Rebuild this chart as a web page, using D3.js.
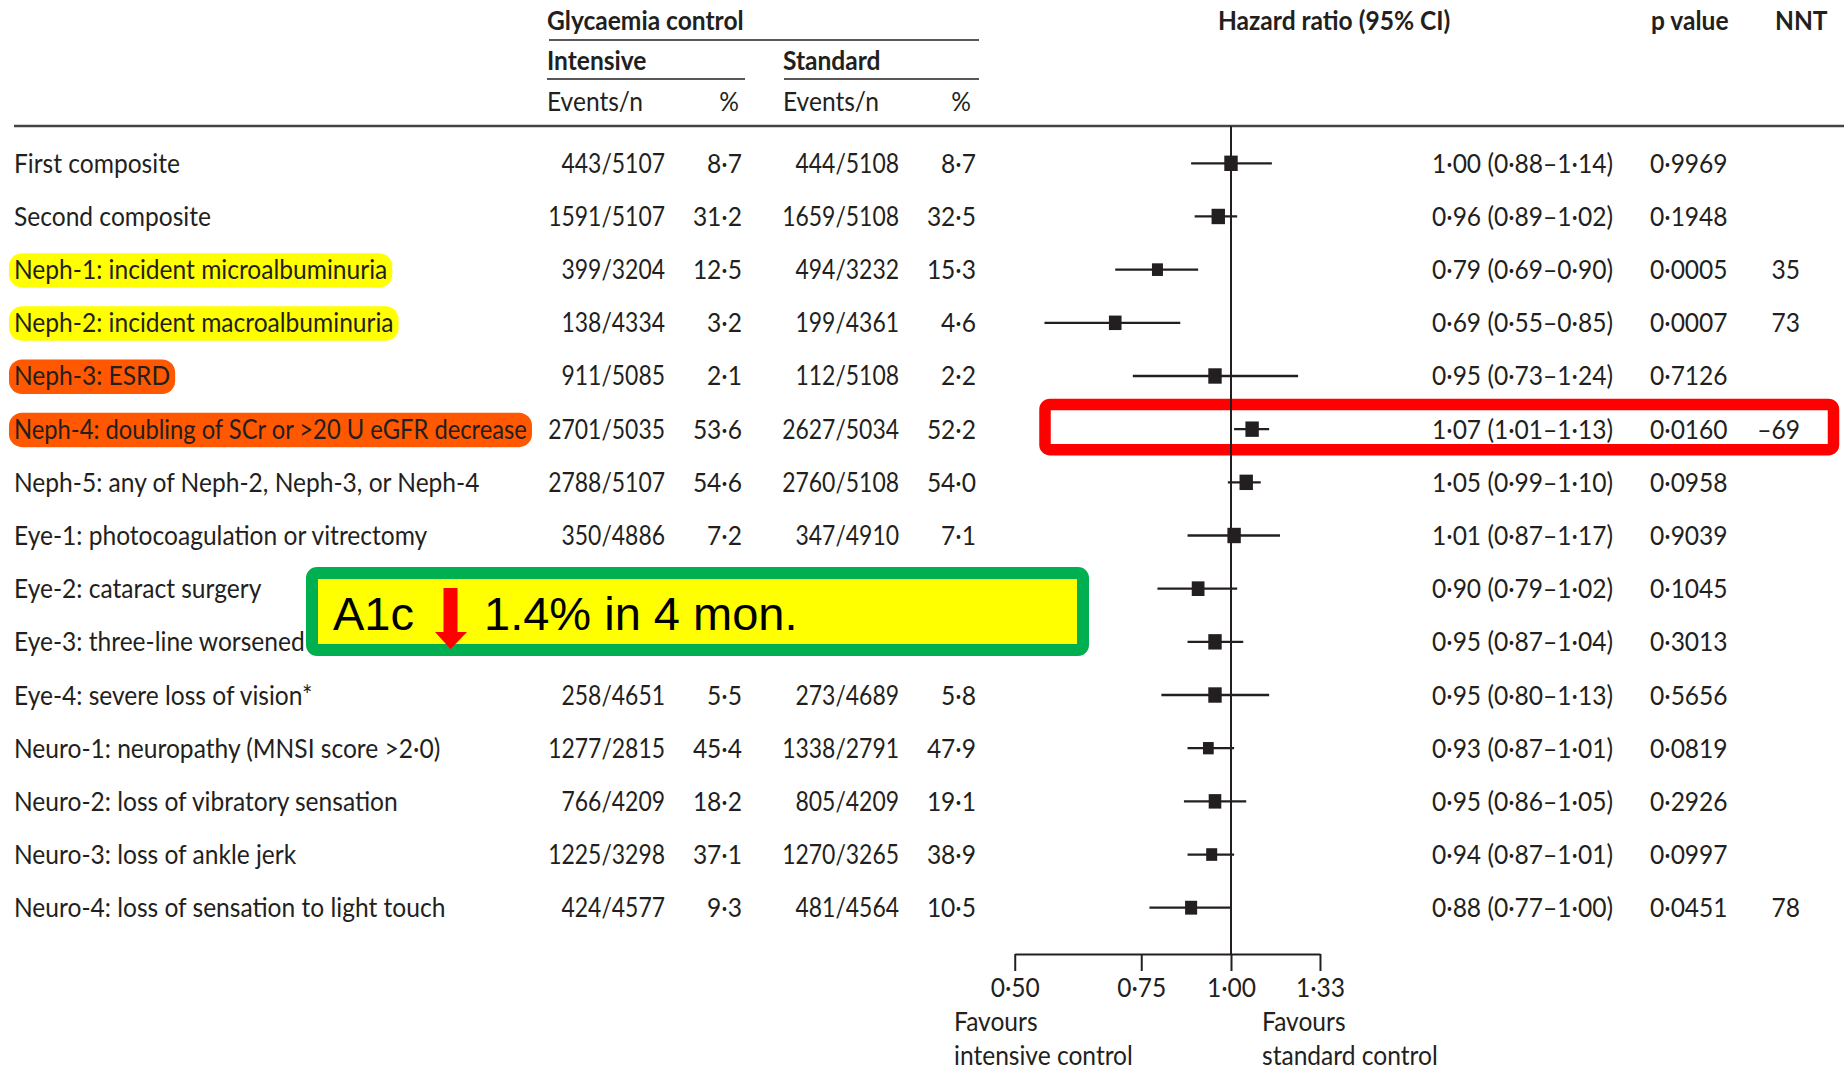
<!DOCTYPE html>
<html><head><meta charset="utf-8">
<script src="https://cdn.jsdelivr.net/npm/d3@7"></script>
<style>html,body{margin:0;padding:0;background:#fff;}svg{display:block;}</style>
</head><body>
<script>
// ---------- data ----------
const labels = [
  "First composite",
  "Second composite",
  "Neph-1: incident microalbuminuria",
  "Neph-2: incident macroalbuminuria",
  "Neph-3: ESRD",
  "Neph-4: doubling of SCr or >20 U eGFR decrease",
  "Neph-5: any of Neph-2, Neph-3, or Neph-4",
  "Eye-1: photocoagulation or vitrectomy",
  "Eye-2: cataract surgery",
  "Eye-3: three-line worsened visual acuity",
  "Eye-4: severe loss of vision*",
  "Neuro-1: neuropathy (MNSI score >2·0)",
  "Neuro-2: loss of vibratory sensation",
  "Neuro-3: loss of ankle jerk",
  "Neuro-4: loss of sensation to light touch"
];
const highlight = ["", "", "yellow", "yellow", "orange", "orange", "", "", "", "", "", "", "", "", ""];
const intEvents = ["443/5107","1591/5107","399/3204","138/4334","911/5085","2701/5035","2788/5107","350/4886","","","258/4651","1277/2815","766/4209","1225/3298","424/4577"];
const intPct    = ["8·7","31·2","12·5","3·2","2·1","53·6","54·6","7·2","","","5·5","45·4","18·2","37·1","9·3"];
const stdEvents = ["444/5108","1659/5108","494/3232","199/4361","112/5108","2627/5034","2760/5108","347/4910","","","273/4689","1338/2791","805/4209","1270/3265","481/4564"];
const stdPct    = ["8·7","32·5","15·3","4·6","2·2","52·2","54·0","7·1","","","5·8","47·9","19·1","38·9","10·5"];
const hr  = [1.00,0.96,0.79,0.69,0.95,1.07,1.05,1.01,0.90,0.95,0.95,0.93,0.95,0.94,0.88];
const lo  = [0.88,0.89,0.69,0.55,0.73,1.01,0.99,0.87,0.79,0.87,0.80,0.87,0.86,0.87,0.77];
const hi  = [1.14,1.02,0.90,0.85,1.24,1.13,1.10,1.17,1.02,1.04,1.13,1.01,1.05,1.01,1.00];
const markerWeight = [1.0,1.0,0.82,0.94,1.0,1.0,1.0,1.0,0.95,1.0,1.0,0.8,0.94,0.82,0.9];
const pval = ["0·9969","0·1948","0·0005","0·0007","0·7126","0·0160","0·0958","0·9039","0·1045","0·3013","0·5656","0·0819","0·2926","0·0997","0·0451"];
const nnt  = ["","","35","73","","–69","","","","","","","","","78"];
const tickValues = [0.5, 0.75, 1.0, 1.33];
const tickLabels = ["0·50", "0·75", "1·00", "1·33"];
const calloutParts = ["A1c", "1.4% in 4 mon."];

// ---------- layout ----------
const W = 1844, H = 1072;
const FS = 27, SX = 0.91, SX_EV = 0.85;
const MAX_LABEL_W = 513;
const FONT = "Lato, 'Open Sans', 'DejaVu Sans', sans-serif";
const ink = "#231f20";
const n = labels.length;

const svg = d3.select("body").append("svg").attr("width", W).attr("height", H);
svg.append("rect").attr("width", W).attr("height", H).attr("fill", "#fff");
const defs = svg.append("defs");
defs.append("clipPath").attr("id", "labelClip").append("rect")
  .attr("x", 0).attr("y", 0).attr("width", 306).attr("height", H);

const y = d3.scalePoint().domain(d3.range(n)).range([163.3, 907.7]);
const x0 = 1231, k = 312;
const x = d3.scaleLog().domain([0.5, 1.33]).range([x0 + Math.log(0.5) * k, x0 + Math.log(1.33) * k]);

const fmt = v => d3.format(".2f")(v).replace(".", "·");

function txt(g, tx, ty, s, anchor = "start", weight = 400, sx = SX) {
  return g.append("text")
    .attr("transform", `translate(${tx},${ty}) scale(${sx},1)`)
    .attr("text-anchor", anchor)
    .attr("font-family", FONT)
    .attr("font-size", FS)
    .attr("font-weight", weight)
    .attr("fill", ink)
    .text(s);
}

const col = { label: 14, intEv: 665, intPct: 742, stdEv: 899, stdPct: 976, hr: 1432, p: 1650, nnt: 1800 };

// ---------- header ----------
const hdr = svg.append("g");
txt(hdr, 547, 30, "Glycaemia control", "start", 700);
hdr.append("line").attr("x1", 549).attr("x2", 979).attr("y1", 40).attr("y2", 40).attr("stroke", ink).attr("stroke-width", 1.6);
txt(hdr, 547, 70, "Intensive", "start", 700);
hdr.append("line").attr("x1", 547).attr("x2", 745).attr("y1", 79).attr("y2", 79).attr("stroke", ink).attr("stroke-width", 1.6);
txt(hdr, 783, 70, "Standard", "start", 700);
hdr.append("line").attr("x1", 784).attr("x2", 979).attr("y1", 79).attr("y2", 79).attr("stroke", ink).attr("stroke-width", 1.6);
txt(hdr, 547, 111, "Events/n");
txt(hdr, 739, 111, "%", "end");
txt(hdr, 783, 111, "Events/n");
txt(hdr, 971, 111, "%", "end");
txt(hdr, 1218, 30, "Hazard ratio (95% CI)", "start", 700);
txt(hdr, 1651, 30, "p value", "start", 700);
txt(hdr, 1775, 30, "NNT", "start", 700);
hdr.append("line").attr("x1", 14).attr("x2", W).attr("y1", 126).attr("y2", 126).attr("stroke", "#444").attr("stroke-width", 2.6);

// ---------- red highlight frame (under the plot lines) ----------
const redRow = 5;
svg.append("rect")
  .attr("x", 1045).attr("y", y(redRow) - 24.7)
  .attr("width", 788.5).attr("height", 45.3)
  .attr("rx", 5)
  .attr("fill", "none").attr("stroke", "#ff0000").attr("stroke-width", 11.5);

// ---------- rows: labels with highlight pills ----------
const rows = svg.append("g");
const pillColor = { yellow: "#ffff00", orange: "#ff5800" };
labels.forEach((lab, i) => {
  const yy = y(i);
  const pill = rows.append("rect");
  const holder = rows.append("g");
  if (i === 9) holder.attr("clip-path", "url(#labelClip)");
  const t = txt(holder, col.label, yy + 9.5, lab);
  let w = t.node().getComputedTextLength() * SX;
  if (w > MAX_LABEL_W) {
    const s = SX * MAX_LABEL_W / w;
    t.attr("transform", `translate(${col.label},${yy + 9.5}) scale(${s},1)`);
    w = MAX_LABEL_W;
  }
  if (highlight[i]) {
    pill.attr("x", col.label - 5).attr("y", yy - 16.5)
      .attr("width", w + 10).attr("height", 34.5)
      .attr("rx", 13).attr("fill", pillColor[highlight[i]]);
  } else pill.remove();
  if (intEvents[i]) txt(rows, col.intEv, yy + 9.5, intEvents[i], "end", 400, SX_EV);
  if (intPct[i]) txt(rows, col.intPct, yy + 9.5, intPct[i], "end");
  if (stdEvents[i]) txt(rows, col.stdEv, yy + 9.5, stdEvents[i], "end", 400, SX_EV);
  if (stdPct[i]) txt(rows, col.stdPct, yy + 9.5, stdPct[i], "end");
  txt(rows, col.hr, yy + 9.5, `${fmt(hr[i])} (${fmt(lo[i])}–${fmt(hi[i])})`);
  txt(rows, col.p, yy + 9.5, pval[i]);
  if (nnt[i]) txt(rows, col.nnt, yy + 9.5, nnt[i], "end");
});

// ---------- forest plot ----------
const plot = svg.append("g");
plot.append("line").attr("x1", x(1)).attr("x2", x(1)).attr("y1", 126).attr("y2", 954)
  .attr("stroke", ink).attr("stroke-width", 2);
plot.selectAll("line.ci").data(d3.range(n)).join("line").attr("class", "ci")
  .attr("x1", i => x(lo[i])).attr("x2", i => x(hi[i]))
  .attr("y1", i => y(i)).attr("y2", i => y(i))
  .attr("stroke", ink).attr("stroke-width", 2.3);
plot.selectAll("rect.pt").data(d3.range(n)).join("rect").attr("class", "pt")
  .attr("x", i => x(hr[i]) - 6.7 * markerWeight[i])
  .attr("y", i => y(i) - 7.7 * markerWeight[i])
  .attr("width", i => 13.4 * markerWeight[i])
  .attr("height", i => 15.4 * markerWeight[i])
  .attr("fill", ink);

const axis = d3.axisBottom(x).tickValues(tickValues).tickFormat((d, i) => tickLabels[i])
  .tickSize(17).tickSizeOuter(0).tickPadding(7);
const ax = svg.append("g").attr("transform", "translate(0,954)").call(axis);
ax.select(".domain").attr("stroke", ink).attr("stroke-width", 2);
ax.selectAll(".tick line").attr("stroke", ink).attr("stroke-width", 2);
ax.selectAll(".tick text").attr("font-family", FONT).attr("font-size", FS).attr("fill", ink)
  .each(function () {
    const t = d3.select(this);
    t.attr("transform", `translate(0,${+t.attr("y") || 0}) scale(${SX},1)`).attr("y", 0);
  });

const fav = svg.append("g");
txt(fav, 954, 1031, "Favours");
txt(fav, 954, 1065, "intensive control");
txt(fav, 1262, 1031, "Favours");
txt(fav, 1262, 1065, "standard control");

// ---------- callout ----------
const co = svg.append("g");
co.append("rect").attr("x", 312).attr("y", 573).attr("width", 771).attr("height", 77)
  .attr("rx", 5).attr("fill", "#ffff00").attr("stroke", "#00b050").attr("stroke-width", 12);
co.append("text").attr("x", 333).attr("y", 630).attr("font-family", "'Liberation Sans', Arial, sans-serif")
  .attr("font-size", 47).attr("fill", "#000").text(calloutParts[0]);
co.append("text").attr("x", 484).attr("y", 630).attr("font-family", "'Liberation Sans', Arial, sans-serif")
  .attr("font-size", 47).attr("fill", "#000").text(calloutParts[1]);
co.append("path")
  .attr("d", "M443.5,588 H457.5 V632 H467 L450.5,649 L435,632 H443.5 Z")
  .attr("fill", "#ff0000");
</script>
</body></html>
